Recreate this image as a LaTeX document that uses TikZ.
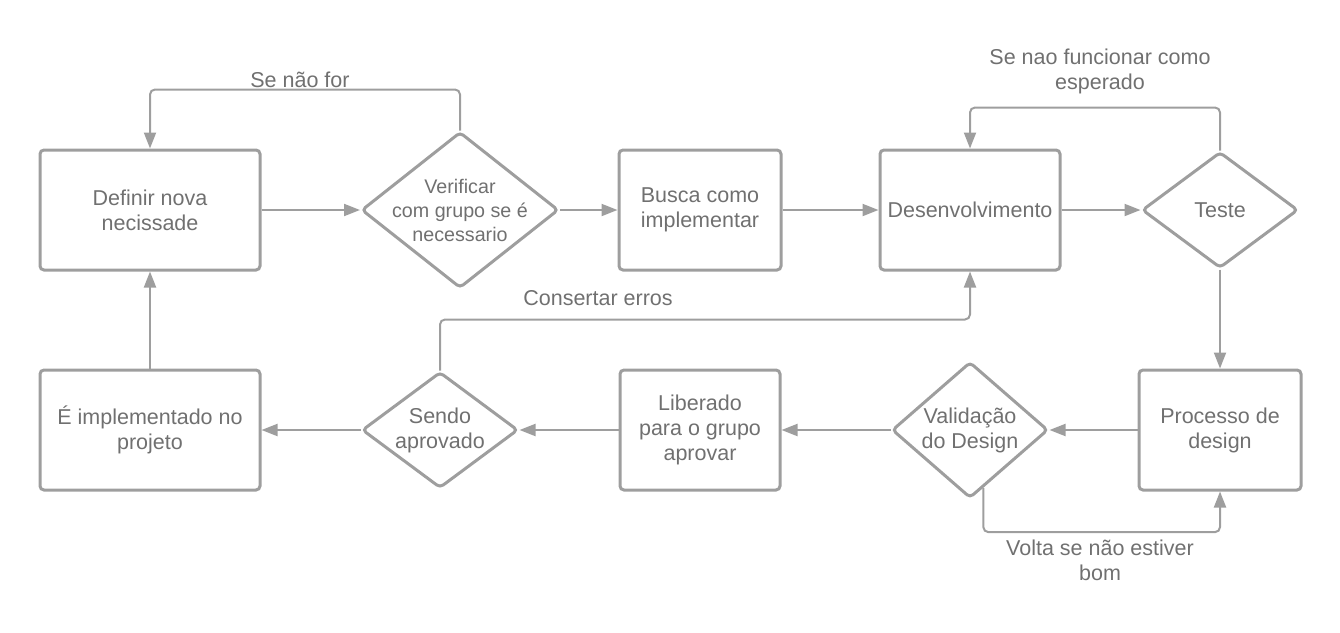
\documentclass[tikz,border=0pt]{standalone}
\usepackage{fontspec}
\setmainfont{Liberation Sans}
\usetikzlibrary{shapes.geometric,arrows.meta,calc}
\definecolor{linegray}{HTML}{9E9E9E}
\definecolor{textgray}{HTML}{707070}
\begin{document}
\begin{tikzpicture}[x=1pt,y=-1pt,
  every node/.style={text=textgray,font=\fontsize{21.5}{25}\selectfont,align=center},
  box/.style={draw=linegray,line width=3pt,rounded corners=4pt,inner sep=0pt},
  dia/.style={draw=linegray,line width=3pt,diamond,rounded corners=4pt,inner sep=0pt},
  conn/.style={draw=linegray,line width=2pt,-{Triangle[length=16pt,width=12pt]},rounded corners=5pt},
  lbl/.style={inner sep=0pt}]
\useasboundingbox (0,0) rectangle (1340,632);
% top row
\node[box,minimum width=220pt,minimum height=120pt] (def) at (150,210) {Definir nova\\necissade};
\node[dia,minimum width=197pt,minimum height=156pt,label={[lbl,font=\fontsize{19.7}{24}\selectfont]center:Verificar\\com grupo se é\\necessario}] (ver) at (460,210) {};
\node[box,minimum width=162pt,minimum height=120pt] (bus) at (700,210) {Busca como\\implementar};
\node[box,minimum width=180pt,minimum height=120pt] (des) at (970,210) {Desenvolvimento};
\node[dia,minimum width=156pt,minimum height=116pt,label={[lbl]center:Teste}] (tes) at (1220,210) {};
% bottom row
\node[box,minimum width=162pt,minimum height=120pt] (pro) at (1220,430) {Processo de\\design};
\node[dia,minimum width=156pt,minimum height=136pt,label={[lbl]center:Validação\\do Design}] (val) at (970,430) {};
\node[box,minimum width=160pt,minimum height=120pt] (lib) at (700,430) {Liberado\\para o grupo\\aprovar};
\node[dia,minimum width=156pt,minimum height=116pt,label={[lbl]center:Sendo\\aprovado}] (sen) at (440,430) {};
\node[box,minimum width=220pt,minimum height=120pt] (imp) at (150,430) {É implementado no\\projeto};
% straight connectors
\draw[conn] (def.east) -- (ver.west);
\draw[conn] (ver.east) -- (bus.west);
\draw[conn] (bus.east) -- (des.west);
\draw[conn] (des.east) -- (tes.west);
\draw[conn] (tes.south) -- (pro.north);
\draw[conn] (pro.west) -- (val.east);
\draw[conn] (val.west) -- (lib.east);
\draw[conn] (lib.west) -- (sen.east);
\draw[conn] (sen.west) -- (imp.east);
\draw[conn] (imp.north) -- (def.south);
% loops
\draw[conn] (ver.north) -- ++(0,-41) -| (def.north);
\draw[conn] (tes.north) -- ++(0,-43) -| (des.north);
\draw[conn] (sen.north) -- ++(0,-51) -| (des.south);
\draw[conn] (val.-77) -- ++(0,44.3) -| (pro.south);
% labels
\node[lbl] (l1) at (300,80) {Se não for};
\node[lbl] (l2) at (1100,71) {Se nao funcionar como\\esperado};
\node[lbl] (l3) at (598,298) {Consertar erros};
\node[lbl] (l4) at (1100,560) {Volta se não estiver\\bom};
\end{tikzpicture}
\end{document}
